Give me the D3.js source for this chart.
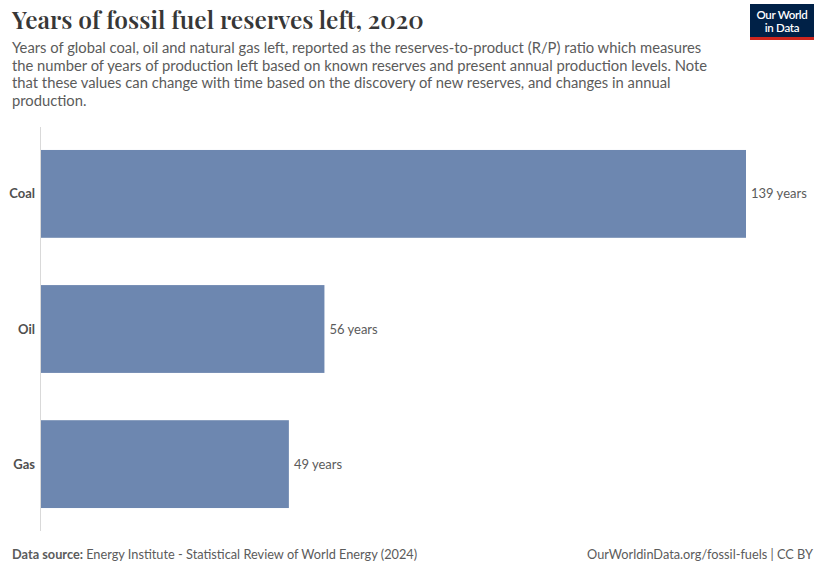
<!DOCTYPE html>
<html>
<head>
<meta charset="utf-8">
<script src="https://cdn.jsdelivr.net/npm/d3@7"></script>
<style>
  html, body { margin: 0; padding: 0; background: #fff; }
  svg { display: block; }
</style>
</head>
<body>
<svg id="chart" width="814" height="564"></svg>
<script>
// Reserves-to-production ratio by fuel
const fuels = ["Coal", "Oil", "Gas"];
const yearsLeft = [139, 56, 49];
const subtitleLines = [
  "Years of global coal, oil and natural gas left, reported as the reserves-to-product (R/P) ratio which measures",
  "the number of years of production left based on known reserves and present annual production levels. Note",
  "that these values can change with time based on the discovery of new reserves, and changes in annual",
  "production."
];

const svg = d3.select("#chart");
const sans = "Lato, 'Noto Sans', sans-serif";

// Title and subtitle
svg.append("text")
  .attr("x", 12).attr("y", 29)
  .attr("font-family", "'Playfair Display', 'DejaVu Serif', Georgia, serif")
  .attr("font-size", 24.5).attr("font-weight", 600)
  .attr("fill", "#373737")
  .text("Years of fossil fuel reserves left, 2020");

svg.append("g").selectAll("text").data(subtitleLines).join("text")
  .attr("x", 12).attr("y", (d, i) => 53 + i * 17.6)
  .attr("font-family", sans).attr("font-size", 14.77)
  .attr("fill", "#5b5b5b")
  .text(d => d);

// Logo
const logo = svg.append("g").attr("transform", "translate(750,4)");
logo.append("rect").attr("width", 64).attr("height", 35).attr("fill", "#002147");
logo.append("rect").attr("y", 33).attr("width", 64).attr("height", 3).attr("fill", "#ce261e");
logo.append("text").attr("x", 32).attr("y", 15).attr("text-anchor", "middle")
  .attr("font-family", sans).attr("font-size", 11.5).attr("font-weight", 600)
  .attr("fill", "#fff").attr("letter-spacing", -0.3).text("Our World");
logo.append("text").attr("x", 32).attr("y", 28).attr("text-anchor", "middle")
  .attr("font-family", sans).attr("font-size", 11.5).attr("font-weight", 600)
  .attr("fill", "#fff").attr("letter-spacing", -0.3).text("in Data");

// Scales
const x0 = 40;
const x = d3.scaleLinear().domain([0, 139]).range([x0, 746]);
const y = d3.scaleBand().domain(fuels).range([127, 531]).paddingInner(0.35).paddingOuter(0.17);

// Baseline axis
svg.append("line")
  .attr("x1", x0 + 0.5).attr("x2", x0 + 0.5)
  .attr("y1", 127).attr("y2", 531)
  .attr("stroke", "#d9d9d9").attr("stroke-width", 1);

const data = fuels.map((f, i) => ({ fuel: f, value: yearsLeft[i] }));

svg.append("g").selectAll("rect").data(data).join("rect")
  .attr("x", x(0) + 1)
  .attr("y", d => y(d.fuel))
  .attr("width", d => x(d.value) - x(0) - 1)
  .attr("height", y.bandwidth())
  .attr("fill", "#6d87b0");

// Category labels
svg.append("g").selectAll("text").data(data).join("text")
  .attr("x", x0 - 5)
  .attr("y", d => y(d.fuel) + y.bandwidth() / 2)
  .attr("dy", "0.35em")
  .attr("text-anchor", "end")
  .attr("font-family", sans).attr("font-size", 13).attr("font-weight", 700)
  .attr("fill", "#4f4f4f")
  .text(d => d.fuel);

// Value labels
svg.append("g").selectAll("text").data(data).join("text")
  .attr("x", d => x(d.value) + 5)
  .attr("y", d => y(d.fuel) + y.bandwidth() / 2)
  .attr("dy", "0.35em")
  .attr("font-family", sans).attr("font-size", 13)
  .attr("fill", "#5b5b5b")
  .text(d => d.value + " years");

// Footer
const foot = svg.append("text").attr("x", 12).attr("y", 559)
  .attr("font-family", sans).attr("font-size", 12.75).attr("fill", "#5b5b5b");
foot.append("tspan").attr("font-weight", 700).text("Data source: ");
foot.append("tspan").text("Energy Institute - Statistical Review of World Energy (2024)");

svg.append("text").attr("x", 813).attr("y", 559).attr("text-anchor", "end")
  .attr("font-family", sans).attr("font-size", 12.75).attr("fill", "#5b5b5b")
  .text("OurWorldinData.org/fossil-fuels | CC BY");
</script>
</body>
</html>
